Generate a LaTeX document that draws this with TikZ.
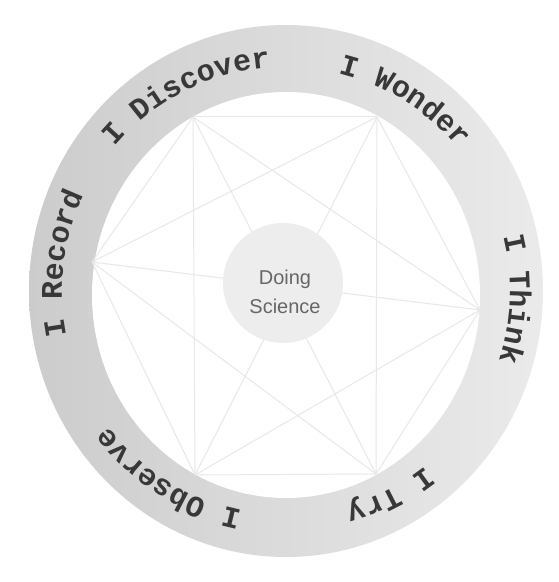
\documentclass[tikz,border=0pt]{standalone}
\usepackage{fontspec}
\usetikzlibrary{decorations.text}
\newfontfamily\ringfont{Liberation Mono}
\newfontfamily\hubfont{Liberation Sans}
\definecolor{ringtext}{HTML}{383838}
\definecolor{hubtext}{HTML}{666666}
\tikzset{
	link/.style={draw=black!9, line width=1pt},
	steplabel/.style={decorate, decoration={text along path, text align=center,
		text color=ringtext, text={|\ringfont\bfseries\fontsize{30}{30}\selectfont|#1}}}
}
\begin{document}
\begin{tikzpicture}[x=1pt,y=1pt]
	\useasboundingbox (0,0) rectangle (559,582);
	\coordinate (ctr) at (286,291);
	% ring
	\shade[left color=black!20, right color=black!8] (ctr) ellipse [x radius=257, y radius=266];
	\fill[white] (286,287) ellipse [x radius=194, y radius=203];
	% corners of the star
	\coordinate (discover) at (193,465);
	\coordinate (wonder)   at (377,465);
	\coordinate (think)    at (480,272);
	\coordinate (try)      at (376,108);
	\coordinate (observe)  at (195,107);
	\coordinate (record)   at ( 92,320);
	\draw[link] (discover) -- (wonder);
	\draw[link] (discover) -- (think);
	\draw[link] (discover) -- (try);
	\draw[link] (discover) -- (observe);
	\draw[link] (discover) -- (record);
	\draw[link] (wonder) -- (think);
	\draw[link] (wonder) -- (try);
	\draw[link] (wonder) -- (observe);
	\draw[link] (wonder) -- (record);
	\draw[link] (think) -- (try);
	\draw[link] (think) -- (observe);
	\draw[link] (think) -- (record);
	\draw[link] (try) -- (observe);
	\draw[link] (try) -- (record);
	\draw[link] (observe) -- (record);
	% hub
	\node (hub) at (283,299) [circle, fill=black!7, minimum size=120pt] {};
	\node (hubtext) at (285,290) [align=center, text=hubtext, font=\hubfont\fontsize{20}{29}\selectfont] {Doing\\Science};
	% labels round the ring
	\path[steplabel={I Wonder}]   (ctr) ++(103:224) arc (103:13:224);
	\path[steplabel={I Think}]    (ctr) ++(43:224) arc (43:-47:224);
	\path[steplabel={I Try}]      (ctr) ++(-18:224) arc (-18:-108:224);
	\path[steplabel={I Observe}]  (ctr) ++(-77:224) arc (-77:-167:224);
	\path[steplabel={I Record}]   (ctr) ++(218:224) arc (218:128:224);
	\path[steplabel={I Discover}] (ctr) ++(162:224) arc (162:72:224);
\end{tikzpicture}
\end{document}
